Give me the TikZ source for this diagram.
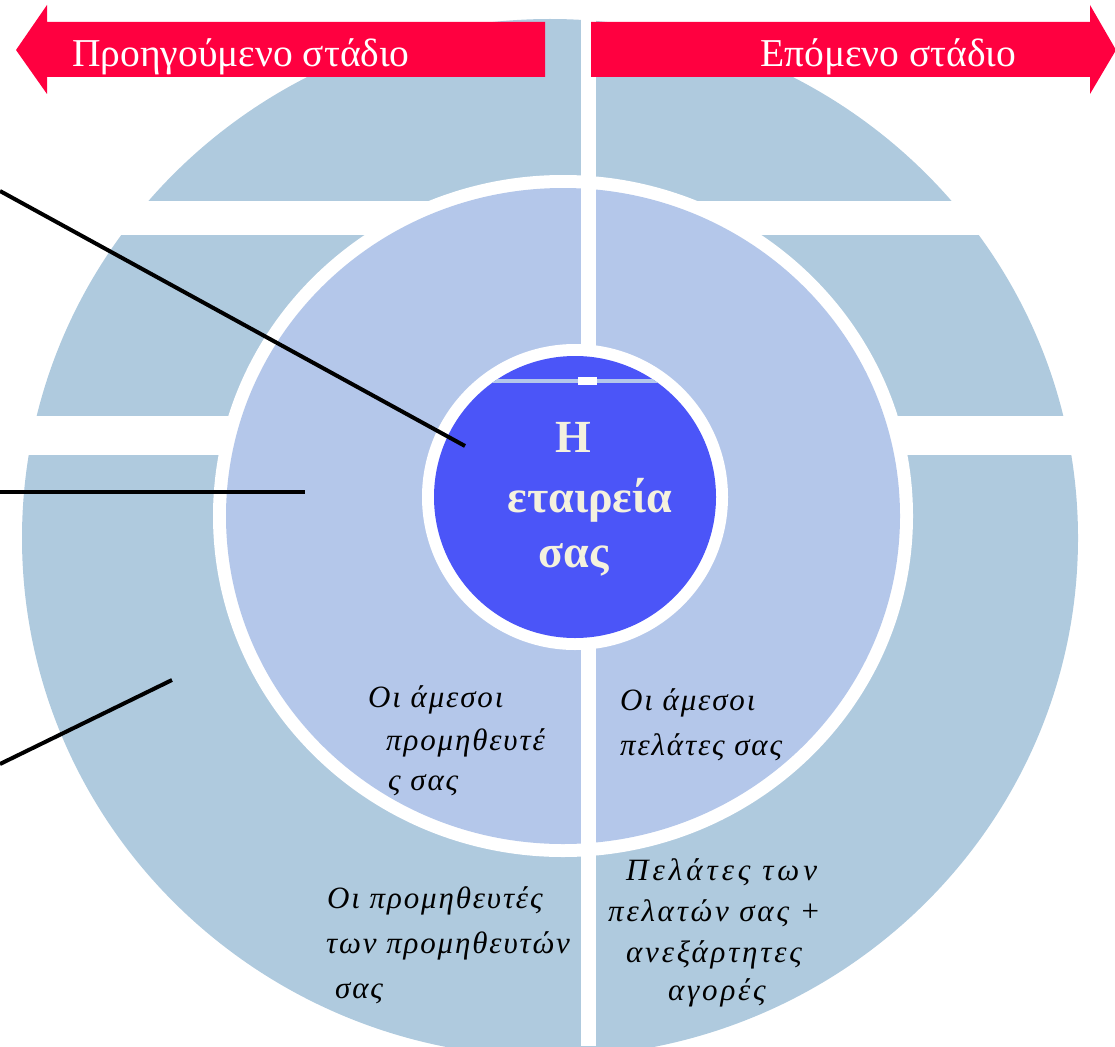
\documentclass[tikz,border=0pt]{standalone}
\usepackage{fontspec}
\setmainfont{Liberation Serif}
\newfontfamily\itgr[LetterSpace=6]{Liberation Serif}
\definecolor{outerband}{HTML}{AFCADE}
\definecolor{midband}{HTML}{B4C7EA}
\definecolor{corecol}{HTML}{4B55F8}
\definecolor{arrowred}{HTML}{FF0040}
\definecolor{cream}{HTML}{F4F1DE}
\tikzset{
  arrowtxt/.style={text=white, inner sep=0pt, font=\fontsize{39.5}{40}\selectfont},
  coretxt/.style={text=cream, inner sep=0pt, font=\fontsize{46}{48}\selectfont\bfseries},
  ringtxt/.style={text=black, inner sep=0pt, anchor=base west, font=\fontsize{31}{32}\selectfont\itgr\itshape},
  widetxt/.style={ringtxt, font=\fontsize{31}{32}\selectfont\itgr\itshape\addfontfeature{LetterSpace=9}},
  widertxt/.style={ringtxt, font=\fontsize{31}{32}\selectfont\itgr\itshape\addfontfeature{LetterSpace=13}},
  leader/.style={line width=4pt, black}
}
\begin{document}
\begin{tikzpicture}[x=1pt,y=-1pt]
\useasboundingbox (0,0) rectangle (1115,1046);
\clip (0,0) rectangle (1115,1046);
% outer ring
\fill[outerband] (550,538) ellipse [x radius=528pt, y radius=519pt];
% gaps
\fill[white] (0,201) rectangle (1115,235);
\fill[white] (0,416) rectangle (1115,455);
\fill[white] (581,0) rectangle (596,1046);
% middle circle
\fill[white] (563,516) ellipse [x radius=350pt, y radius=341pt];
\fill[midband] (563,516) ellipse [x radius=337pt, y radius=328pt];
\fill[white] (581,150) rectangle (596,1046);
% core
\fill[white] (575,497) circle [radius=153pt];
\fill[corecol] (575,497) circle [radius=141pt];
\begin{scope}
\clip (575,497) circle [radius=141pt];
\fill[midband] (480,379) rectangle (670,383);
\fill[white] (578,377) rectangle (597,385);
\end{scope}
% arrows
\fill[arrowred] (16,50) -- (47,5) -- (47,22) -- (545,22) -- (545,77) -- (47,77) -- (47,94) -- cycle;
\fill[arrowred] (591,22) -- (1090,22) -- (1090,5) -- (1116,50) -- (1090,94) -- (1090,77) -- (591,77) -- cycle;
\node[arrowtxt, anchor=base west] (prev) at (72,67) {Προηγούμενο στάδιο};
\node[arrowtxt, anchor=base west] (next) at (760,67) {Επόμενο στάδιο};
% core text
\node[coretxt, anchor=base] (c1) at (573,452) {Η};
\node[coretxt, anchor=base] (c2) at (590,512) {εταιρεία};
\node[coretxt, anchor=base] (c3) at (574,567) {σας};
% middle ring texts
\node[ringtxt] (s1) at (368,707) {Οι άμεσοι};
\node[ringtxt] (s2) at (386,750) {προμηθευτέ};
\node[ringtxt] (s3) at (388,790) {ς σας};
\node[ringtxt] (k1) at (620,710) {Οι άμεσοι};
\node[ringtxt] (k2) at (620,755) {πελάτες σας};
% outer ring texts
\node[ringtxt] (ss1) at (327,908) {Οι προμηθευτές};
\node[ringtxt] (ss2) at (326,953) {των προμηθευτών};
\node[ringtxt] (ss3) at (335,998) {σας};
\node[widertxt] (kk1) at (626,880) {Πελάτες των};
\node[widetxt] (kk2) at (608,921) {πελατών σας +};
\node[widetxt] (kk3) at (626,962) {ανεξάρτητες};
\node[widetxt] (kk4) at (668,1000) {αγορές};
% leader lines
\coordinate (l1a) at (0,191);
\coordinate (l1b) at (465,446);
\coordinate (l2a) at (0,492);
\coordinate (l2b) at (305,492);
\coordinate (l3a) at (0,764);
\coordinate (l3b) at (172,680);
\draw[leader] (l1a) -- (l1b);
\draw[leader] (l2a) -- (l2b);
\draw[leader] (l3a) -- (l3b);
\end{tikzpicture}
\end{document}
